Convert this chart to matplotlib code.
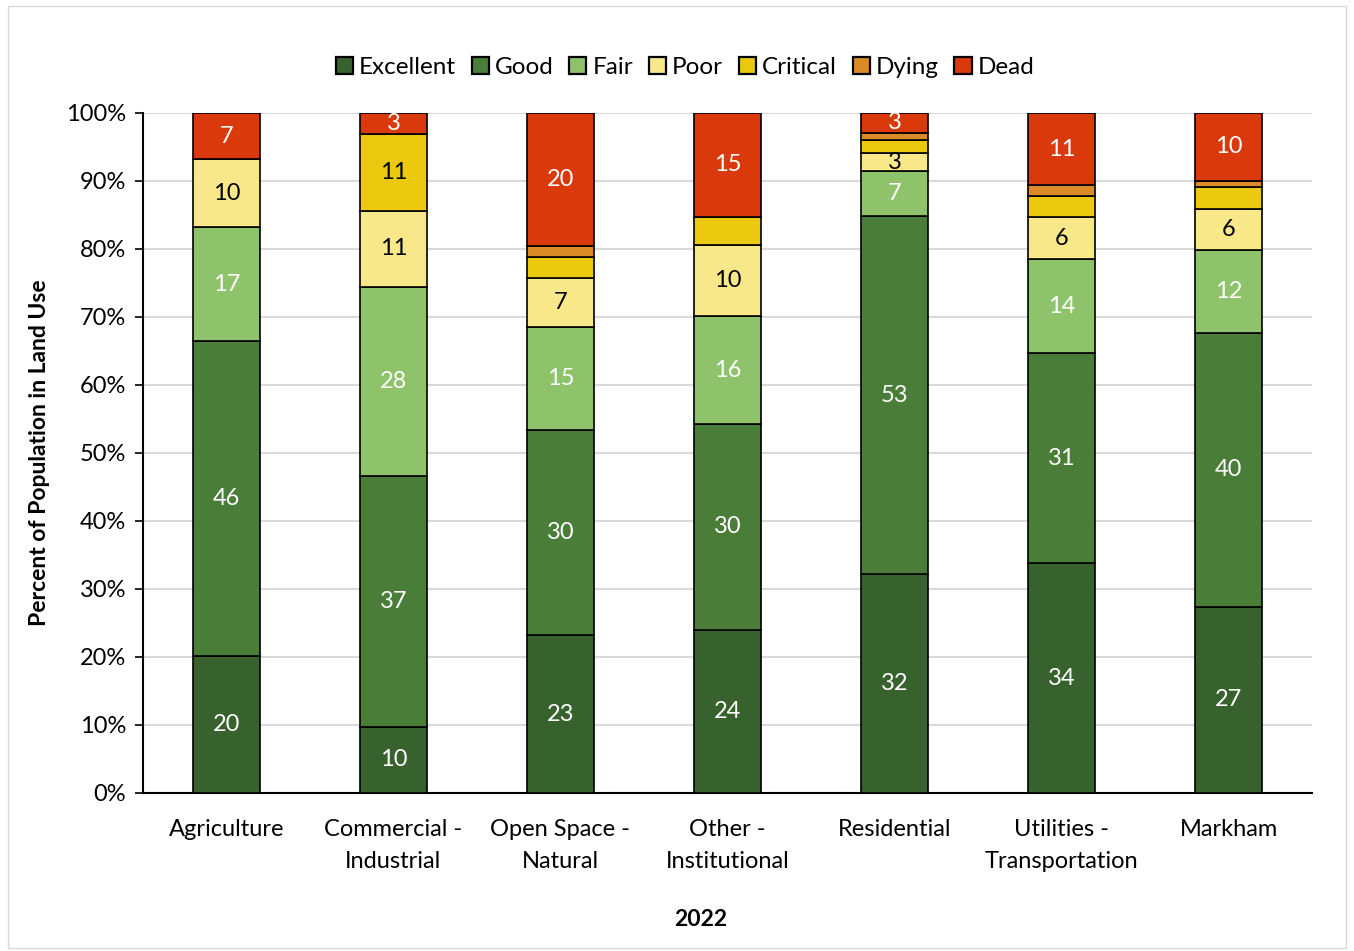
import matplotlib
matplotlib.use("Agg")
import matplotlib.pyplot as plt
import numpy as np
from matplotlib.patches import Rectangle

plt.rcParams['font.family'] = ['Lato', 'DejaVu Sans']

categories = ["Agriculture", "Commercial -\nIndustrial", "Open Space -\nNatural",
              "Other -\nInstitutional", "Residential", "Utilities -\nTransportation", "Markham"]

excellent = [20.1, 9.7, 23.2, 24.0, 32.2, 33.8, 27.4]
good      = [46.3, 36.9, 30.2, 30.3, 52.6, 30.9, 40.2]
fair      = [16.8, 27.8, 15.1, 15.8, 6.6, 13.8, 12.3]
poor      = [10.0, 11.2, 7.2, 10.5, 2.7, 6.2, 6.0]
critical  = [0.0, 11.3, 3.1, 4.1, 1.9, 3.1, 3.2]
dying     = [0.0, 0.0, 1.6, 0.0, 1.1, 1.6, 0.9]
dead      = [6.8, 3.1, 19.6, 15.3, 2.9, 10.6, 10.0]

series_names = ["Excellent", "Good", "Fair", "Poor", "Critical", "Dying", "Dead"]
series_values = [excellent, good, fair, poor, critical, dying, dead]
colors = ["#38622D", "#4A7E38", "#8EC36B", "#F9E88A", "#EAC90F", "#DB8A28", "#DA390C"]
label_colors = ["white", "white", "white", "black", "black", None, "white"]

y_ticks = [0, 10, 20, 30, 40, 50, 60, 70, 80, 90, 100]
y_ticklabels = [f"{t}%" for t in y_ticks]

fig = plt.figure(figsize=(13.54, 9.51), dpi=100)
fig.patches.append(Rectangle((0.006, 0.003), 0.988, 0.991, transform=fig.transFigure,
                             fill=False, edgecolor="#D9D9D9", linewidth=1.0))
ax = fig.add_axes([0.1056, 0.1662, 0.8634, 0.715])

x = np.arange(len(categories))
bottom = np.zeros(len(categories))
bar_width = 0.40
for name, vals, col, lc in zip(series_names, series_values, colors, label_colors):
    vals = np.array(vals)
    ax.bar(x, vals, bar_width, bottom=bottom, color=col, edgecolor="black",
           linewidth=1.2, label=name, zorder=3)
    for xi, v, b in zip(x, vals, bottom):
        if lc is None or v <= 0:
            continue
        if name == "Critical" and v < 5:
            continue
        ax.text(xi, b + v / 2, f"{int(round(v))}", ha="center", va="center",
                color=lc, fontsize=17, zorder=4)
    bottom += vals

ax.set_xlim(-0.5, len(categories) - 0.5)
ax.set_ylim(0, 100)
ax.set_yticks(y_ticks)
ax.set_yticklabels(y_ticklabels, fontsize=17)
ax.set_xticks(x)
ax.set_xticklabels(categories, fontsize=17, linespacing=1.6)
ax.tick_params(axis="x", length=0, pad=19)
ax.tick_params(axis="y", length=6, width=1.2, direction="out", pad=6)
ax.yaxis.grid(True, color="#D9D9D9", linewidth=1.5, zorder=0)
ax.set_axisbelow(True)
for s in ["top", "right"]:
    ax.spines[s].set_visible(False)
for s in ["left", "bottom"]:
    ax.spines[s].set_linewidth(1.5)
    ax.spines[s].set_color("black")

ax.set_ylabel("Percent of Population in Land Use", fontsize=16.5, fontweight="bold", labelpad=12)
ax.set_xlabel("2022", fontsize=16.5, fontweight="bold")
ax.xaxis.set_label_coords(0.477, -0.171)

leg = fig.legend(loc="center", bbox_to_anchor=(0.506, 0.929), ncol=7, frameon=False,
                 fontsize=17.5, handlelength=0.7, handleheight=0.7, handletextpad=0.25,
                 columnspacing=0.65)
for h in leg.legend_handles:
    h.set_linewidth(1.6)

fig.savefig("out.png", dpi=100)
